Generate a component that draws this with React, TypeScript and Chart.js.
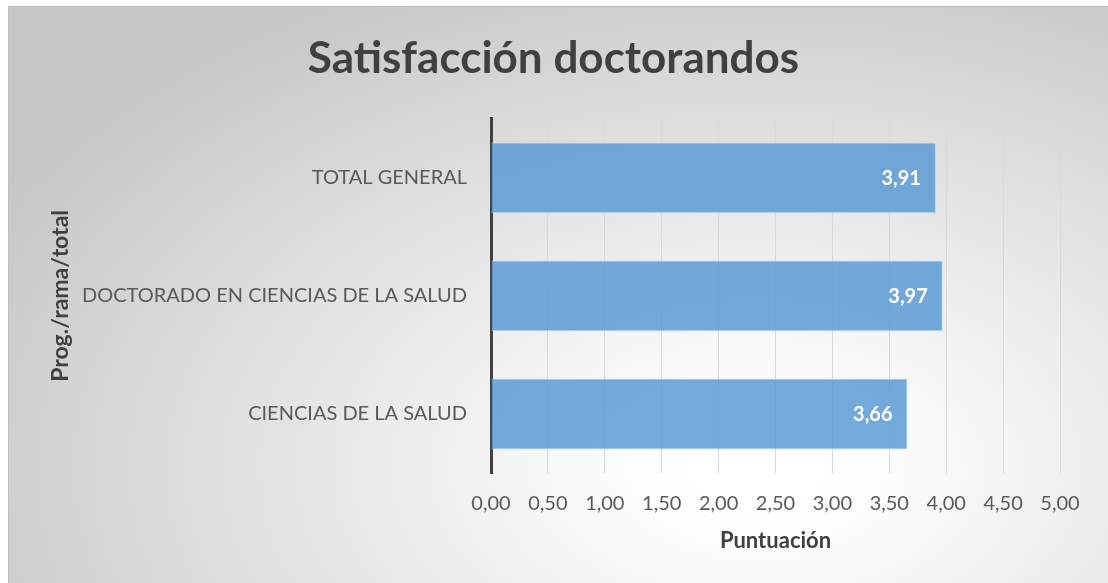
import React, { useEffect, useRef } from "react";
import { Chart, registerables } from "chart.js";

Chart.register(...registerables);

const categories = ["TOTAL GENERAL", "DOCTORADO EN CIENCIAS DE LA SALUD", "CIENCIAS DE LA SALUD"];
const values = [3.91, 3.97, 3.66];
const xMin = 0;
const xMax = 5;
const xStep = 0.5;

const fmt = (v: number) => Number(v).toFixed(2).replace(".", ",");

const FONT = "Lato, 'Open Sans', sans-serif";

const dataLabelPlugin = {
  id: "dataLabels",
  afterDatasetsDraw(chart: any) {
    const ctx = chart.ctx;
    const meta = chart.getDatasetMeta(0);
    ctx.save();
    ctx.fillStyle = "#ffffff";
    ctx.font = `bold 20px ${FONT}`;
    ctx.textAlign = "right";
    ctx.textBaseline = "middle";
    meta.data.forEach((el: any, i: number) => {
      ctx.fillText(fmt(values[i]), el.x - 15, el.y + 1);
    });
    ctx.restore();
  },
};

export default function App() {
  const ref = useRef<HTMLCanvasElement | null>(null);
  useEffect(() => {
    if (!ref.current) return;
    const chart = new Chart(ref.current, {
      type: "bar",
      data: {
        labels: categories,
        datasets: [
          {
            data: values,
            backgroundColor: "rgba(91,155,213,0.85)",
            borderColor: "rgba(189,215,238,0.9)",
            borderWidth: 1,
            categoryPercentage: 1,
            barPercentage: 0.6,
          },
        ],
      },
      plugins: [dataLabelPlugin],
      options: {
        indexAxis: "y",
        animation: false,
        responsive: false,
        maintainAspectRatio: false,
        layout: { padding: { top: 0, left: 38, right: 48, bottom: 29 } },
        plugins: {
          legend: { display: false },
          tooltip: { enabled: false },
          title: {
            display: true,
            text: "Satisfacción doctorandos",
            color: "#404040",
            font: { family: FONT, size: 44, weight: "bold" },
            padding: { top: 25, bottom: 34 },
          },
        },
        scales: {
          x: {
            min: xMin,
            max: xMax,
            ticks: {
              stepSize: xStep,
              callback: (v: any) => fmt(v),
              color: "#595959",
              font: { family: FONT, size: 20 },
              padding: 19,
              maxRotation: 0,
            },
            grid: { color: "#d9d9d9", lineWidth: 1, drawTicks: false },
            border: { display: false },
            title: {
              display: true,
              text: "Puntuación",
              color: "#404040",
              font: { family: FONT, size: 22, weight: "bold" },
              padding: { top: 4, bottom: 0 },
            },
            afterFit: (scale: any) => {
              scale.height = 81;
            },
          },
          y: {
            ticks: {
              color: "#595959",
              font: { family: FONT, size: 20 },
              padding: 24,
            },
            grid: { display: false, drawTicks: false },
            border: { display: true, color: "#404040", width: 3 },
            title: {
              display: true,
              text: "Prog./rama/total",
              color: "#404040",
              font: { family: FONT, size: 23, weight: "bold" },
              padding: { top: 0, bottom: 0 },
            },
            afterFit: (scale: any) => {
              scale.width = 444;
            },
          },
        },
      },
    });
    return () => chart.destroy();
  }, []);

  return (
    <div
      style={{
        position: "fixed",
        left: 8,
        top: 6,
        width: 1100,
        height: 577,
        boxSizing: "border-box",
        borderTop: "1px solid #bfbfbf",
        borderLeft: "1px solid #bfbfbf",
        background:
          "radial-gradient(ellipse 80% 95% at 68% 80%, #ffffff 0%, #fdfdfd 14%, #e8e8e8 48%, #c6c6c6 100%)",
      }}
    >
      <canvas ref={ref} width={1099} height={576} style={{ display: "block" }} />
    </div>
  );
}
